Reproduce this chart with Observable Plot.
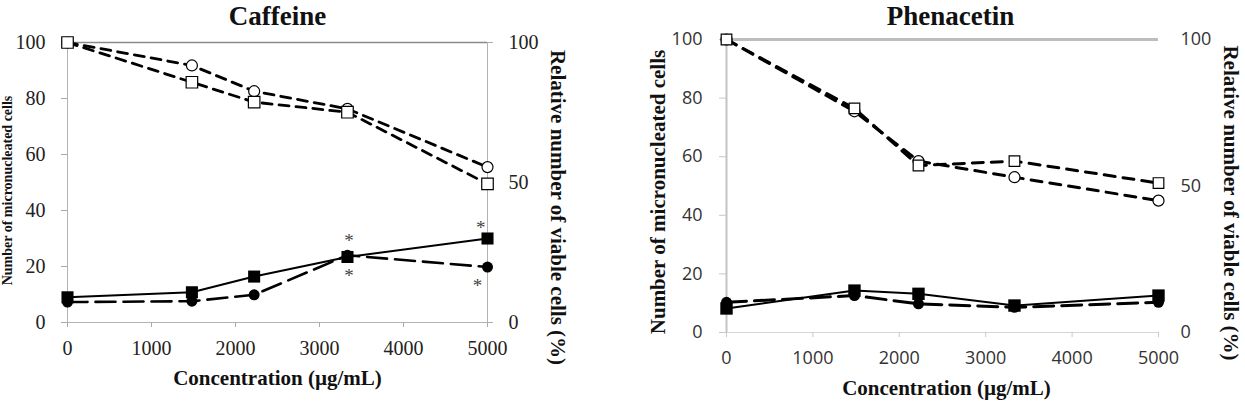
<!DOCTYPE html>
<html><head><meta charset="utf-8">
<script src="https://cdn.jsdelivr.net/npm/d3@7"></script>
<script src="https://cdn.jsdelivr.net/npm/@observablehq/plot@0.6"></script>
<style>
html,body{margin:0;padding:0;background:#fff}
body{width:1245px;height:407px;overflow:hidden;position:relative}
#left{position:absolute;left:0;top:0}
#right{position:absolute;left:620px;top:0}
#left svg text{font-family:"Liberation Serif","Times New Roman",serif !important}
#right svg text{font-family:"Liberation Serif","Times New Roman",serif !important}
#right svg g[aria-label$="tick label"] text{font-family:"Open Sans","Liberation Sans",sans-serif !important}
</style></head><body>
<div id="left"></div><div id="right"></div>
<script>
// ---- data ----
const concentrations = [0, 1481, 2222, 3333, 5000];
const xTicks = [0, 1000, 2000, 3000, 4000, 5000];
const yTicksLeft = [0, 20, 40, 60, 80, 100];
const yTicksRight = [0, 50, 100];

const caffeineMNSquare = [9, 10.8, 16.4, 23.4, 30];
const caffeineMNCircle = [7.3, 7.6, 9.9, 24, 19.8];
const caffeineViabCircle = [100, 91.8, 82.6, 76.3, 55.5];
const caffeineViabSquare = [100, 85.8, 78.7, 75.1, 49.5];
const caffeineStarX = [3350, 3350, 4920, 4880];
const caffeineStarY = [30.5, 18, 35.2, 14.4];

const phenacetinMNSquare = [8.2, 14.3, 13.2, 9.2, 12.6];
const phenacetinMNCircle = [10.3, 12.6, 9.8, 8.6, 10.3];
const phenacetinViabCircle = [100, 75.5, 58.5, 53, 45];
const phenacetinViabSquare = [100, 76.5, 57, 58.5, 51];

const titles = ["Caffeine", "Phenacetin"];
const xLabel = "Concentration (µg/mL)";
const yLabelLeft = "Number of micronucleated cells";
const yLabelRight = "Relative number of viable cells (%)";

const rows = (xs, ys) => xs.map((x, i) => ({x, y: ys[i]}));

function seriesMarks(mnSq, mnCi, vCi, vSq, o) {
  return [
    Plot.line(rows(concentrations, vCi), {x: "x", y: "y", stroke: "#000", strokeWidth: o.vw, strokeDasharray: o.vdash}),
    Plot.line(rows(concentrations, vSq), {x: "x", y: "y", stroke: "#000", strokeWidth: o.vw, strokeDasharray: o.vdash}),
    Plot.line(rows(concentrations, mnCi), {x: "x", y: "y", stroke: "#000", strokeWidth: o.dw, strokeDasharray: o.ldash}),
    Plot.line(rows(concentrations, mnSq), {x: "x", y: "y", stroke: "#000", strokeWidth: o.sw}),
    Plot.dot(rows(concentrations, vCi), {x: "x", y: "y", symbol: "circle", r: o.ocr, fill: "#fff", stroke: "#000", strokeWidth: 1.2}),
    Plot.dot(rows(concentrations, vSq), {x: "x", y: "y", symbol: "square", r: o.osr, fill: "#fff", stroke: "#000", strokeWidth: 1.2}),
    Plot.dot(rows(concentrations, mnCi), {x: "x", y: "y", symbol: "circle", r: o.fcr, fill: "#000", stroke: "none"}),
    Plot.dot(rows(concentrations, mnSq), {x: "x", y: "y", symbol: "square", r: o.fsr, fill: "#000", stroke: "none"})
  ];
}

const serif = "Liberation Serif, Times New Roman, serif";

// ---- Caffeine ----
const left = Plot.plot({
  width: 600, height: 407,
  marginLeft: 67, marginRight: 113, marginTop: 42, marginBottom: 85,
  style: {fontFamily: serif, background: "#fff"},
  x: {domain: [0, 5000]},
  y: {domain: [0, 100]},
  marks: [
    Plot.ruleX([0, 5000], {stroke: "#b3b3b3", strokeWidth: 1}),
    Plot.ruleY([0], {stroke: "#b3b3b3", strokeWidth: 1}),
    Plot.ruleY([100], {stroke: "#8a8a8a", strokeWidth: 1.3}),
    Plot.axisX({ticks: xTicks, tickFormat: d => String(d), tickSize: 5, tickPadding: 13, fontSize: 20, fill: "#222", stroke: "#aaa", label: null}),
    Plot.axisY({anchor: "left", ticks: yTicksLeft, tickFormat: d => String(d), tickSize: 6, tickPadding: 16, fontSize: 20, fill: "#222", stroke: "#aaa", label: null}),
    Plot.axisY({anchor: "right", ticks: yTicksRight, tickFormat: d => String(d), tickSize: 5, tickPadding: 16, fontSize: 20, fill: "#222", stroke: "#aaa", label: null}),
    ...seriesMarks(caffeineMNSquare, caffeineMNCircle, caffeineViabCircle, caffeineViabSquare,
      {vw: 2.8, vdash: "10,7", dw: 2.6, ldash: "20,8", sw: 2, ocr: 5.5, osr: 6.5, fcr: 5.5, fsr: 6.8}),
    Plot.text(rows(caffeineStarX, caffeineStarY), {x: "x", y: "y", text: () => "*", fontSize: 19, fill: "#444", dy: 4}),
    Plot.text([titles[0]], {frameAnchor: "top", dy: -26, fontSize: 27, fontWeight: "bold", fill: "#111", textAnchor: "middle", lineAnchor: "middle"}),
    Plot.text([xLabel], {frameAnchor: "bottom", dy: 56, fontSize: 21, fontWeight: "bold", fill: "#111", textAnchor: "middle", lineAnchor: "middle"}),
    Plot.text([yLabelRight], {frameAnchor: "right", dx: 70, dy: 25, rotate: 90, fontSize: 21, fontWeight: "bold", fill: "#111", textAnchor: "middle", lineAnchor: "middle"}),
    Plot.text([yLabelLeft], {frameAnchor: "left", dx: -60, dy: 8, rotate: -90, fontSize: 14, fontWeight: "bold", fill: "#111", textAnchor: "middle", lineAnchor: "middle"})
  ]
});
document.getElementById("left").appendChild(left);

// ---- Phenacetin ----
const right = Plot.plot({
  width: 625, height: 407,
  marginLeft: 106, marginRight: 87, marginTop: 39, marginBottom: 75,
  style: {fontFamily: serif, background: "#fff"},
  x: {domain: [0, 5000]},
  y: {domain: [0, 100]},
  marks: [
    Plot.ruleY([0], {stroke: "#d6d6d6", strokeWidth: 1.2}),
    Plot.ruleX([0], {stroke: "#c4c4c4", strokeWidth: 2}),
    Plot.ruleY([100], {stroke: "#bdbdbd", strokeWidth: 3}),
    Plot.axisX({ticks: xTicks, tickFormat: d => String(d), tickSize: 5, tickPadding: 14, fontSize: 18, fill: "#333", stroke: "#c8c8c8", label: null}),
    Plot.axisY({anchor: "left", ticks: yTicksLeft, tickFormat: d => String(d), tickSize: 7, tickPadding: 17, fontSize: 18, fill: "#333", stroke: "#c8c8c8", label: null}),
    Plot.axisY({anchor: "right", ticks: yTicksRight, tickFormat: d => String(d), tickSize: 0, tickPadding: 22, fontSize: 18, fill: "#333", label: null}),
    ...seriesMarks(phenacetinMNSquare, phenacetinMNCircle, phenacetinViabCircle, phenacetinViabSquare,
      {vw: 3, vdash: "11,8", dw: 3, ldash: "20,8", sw: 2, ocr: 5.5, osr: 6, fcr: 5.5, fsr: 7}),
    Plot.text([titles[1]], {frameAnchor: "top", dx: 8, dy: -23, fontSize: 27, fontWeight: "bold", fill: "#111", textAnchor: "middle", lineAnchor: "middle"}),
    Plot.text([xLabel], {frameAnchor: "bottom", dx: 4, dy: 56, fontSize: 21, fontWeight: "bold", fill: "#111", textAnchor: "middle", lineAnchor: "middle"}),
    Plot.text([yLabelLeft], {frameAnchor: "left", dx: -68, dy: 6, rotate: -90, fontSize: 21, fontWeight: "bold", fill: "#111", textAnchor: "middle", lineAnchor: "middle"}),
    Plot.text([yLabelRight], {frameAnchor: "right", dx: 72, dy: 17, rotate: 90, fontSize: 21, fontWeight: "bold", fill: "#111", textAnchor: "middle", lineAnchor: "middle"})
  ]
});
document.getElementById("right").appendChild(right);
</script>
</body></html>
